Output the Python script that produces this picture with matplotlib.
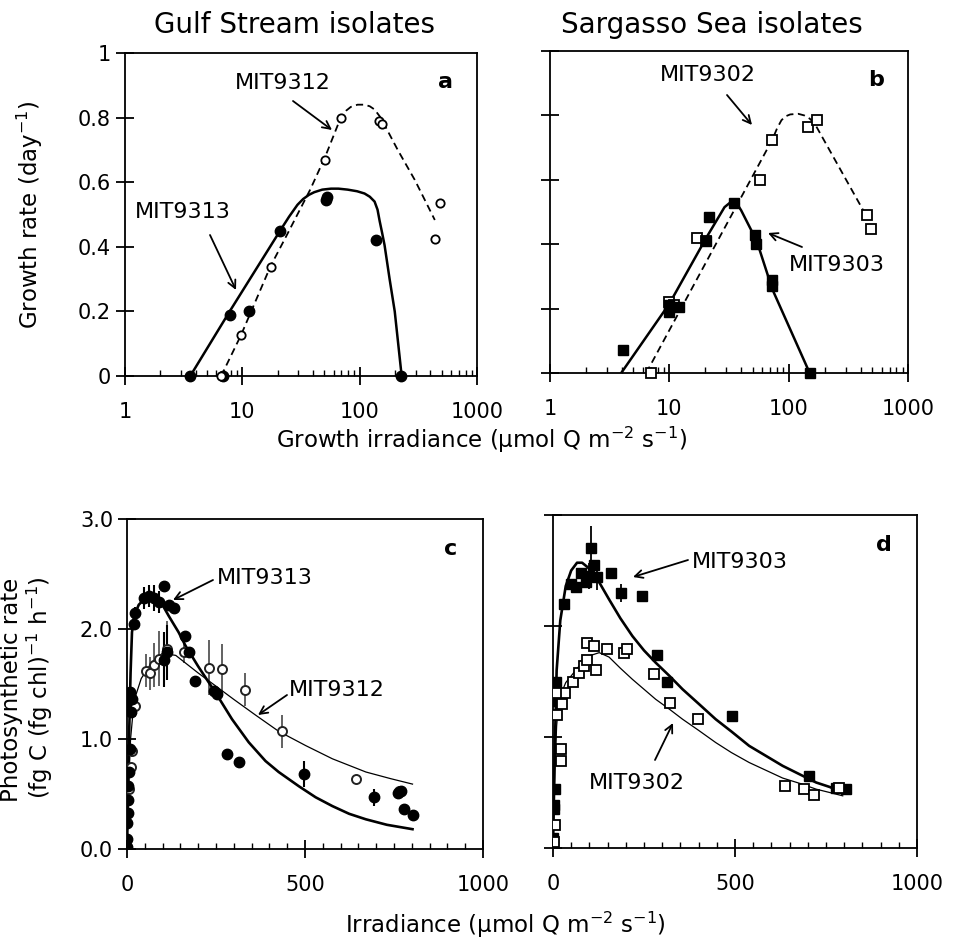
import matplotlib
matplotlib.use("Agg")
import matplotlib.pyplot as plt
from matplotlib.ticker import FixedLocator, LogLocator, MultipleLocator, NullFormatter

plt.rcParams['font.family'] = ['DejaVu Sans']

# ---------------- Panel a : Gulf Stream isolates (growth rate) ----------------
a_9313_x = [3.6, 6.9, 7.9, 11.5, 21, 52, 53, 137, 224]
a_9313_y = [0, 0, 0.19, 0.20, 0.45, 0.545, 0.555, 0.42, 0]
a_9312_x = [6.6, 9.7, 17.4, 51, 69, 146, 155, 480, 437]
a_9312_y = [0, 0.127, 0.338, 0.669, 0.80, 0.79, 0.78, 0.535, 0.424]
a_9313_fit_x = [3.6, 7.8, 21, 25, 29.5, 33, 37, 41, 48, 57, 66, 79, 95, 110, 122, 134, 142, 148, 155, 163,
                180, 199, 228]
a_9313_fit_y = [0, 0.2, 0.45, 0.493, 0.53, 0.548, 0.561, 0.569, 0.577, 0.58, 0.58, 0.577, 0.572, 0.565,
                0.555, 0.54, 0.515, 0.48, 0.445, 0.405, 0.3, 0.2, 0]
a_9312_fit_x = [6.6, 9.7, 17.4, 24, 38, 51, 69, 77, 84, 96, 110, 122, 134, 151, 211, 295, 437]
a_9312_fit_y = [0, 0.125, 0.34, 0.437, 0.578, 0.68, 0.80, 0.822, 0.833, 0.84, 0.84, 0.835, 0.825, 0.80, 0.70,
                0.607, 0.483]

# ---------------- Panel b : Sargasso Sea isolates (growth rate) ----------------
b_9302_x = [7.0, 10, 11, 17.2, 20.4, 57, 73, 145, 172, 452, 490]
b_9302_y = [0, 0.22, 0.21, 0.42, 0.41, 0.60, 0.725, 0.765, 0.785, 0.49, 0.447]
b_9303_x = [4.1, 10, 12.1, 10, 21.7, 20.4, 35, 52, 53, 73, 73, 150]
b_9303_y = [0.071, 0.21, 0.205, 0.19, 0.485, 0.41, 0.527, 0.43, 0.40, 0.29, 0.27, 0]
b_9303_fit_x = [3.95, 10, 20.4, 29, 33, 36, 40, 54, 73, 150]
b_9303_fit_y = [0, 0.215, 0.42, 0.515, 0.532, 0.532, 0.505, 0.41, 0.26, 0]
b_9302_fit_x = [6.4, 35, 73, 80, 87, 94, 103, 120, 135, 150, 165, 452]
b_9302_fit_y = [0, 0.506, 0.725, 0.76, 0.785, 0.797, 0.803, 0.805, 0.80, 0.79, 0.775, 0.485]

# ---------------- Panel c : Gulf Stream P-I curves ----------------
c_9313_x = [0, 0, 0, 2, 3, 4, 5, 8, 12, 0, 9, 14, 19, 23, 47, 61, 75, 89, 103, 117,
            131, 162, 174, 192, 244, 253, 282, 314, 497, 694, 760, 769, 779, 802, 105, 113]
c_9313_y = [0.02, 0.09, 0.24, 0.33, 0.45, 0.57, 0.70, 0.91, 1.25, 1.34, 1.43, 1.36, 2.05, 2.15,
            2.28, 2.30, 2.28, 2.25, 2.39, 2.22, 2.19, 1.94, 1.79, 1.53, 1.44, 1.41, 0.86, 0.79,
            0.68, 0.47, 0.51, 0.53, 0.36, 0.31, 1.72, 1.79]
c_9313_err = [0, 0, 0, 0, 0, 0, 0, 0, 0, 0, 0, 0, 0, 0.05,
              0.1, 0.1, 0.12, 0.1, 0, 0, 0, 0, 0, 0, 0, 0, 0, 0,
              0.12, 0.08, 0, 0, 0, 0, 0.25, 0.25]
c_9312_x = [5, 10, 14, 23, 52, 66, 75, 89, 113, 159, 230, 267, 331, 436, 643, 764]
c_9312_y = [0.55, 0.75, 0.89, 1.30, 1.62, 1.60, 1.67, 1.73, 1.82, 1.79, 1.65, 1.64, 1.45, 1.07, 0.64, 0.53]
c_9312_err = [0, 0, 0.05, 0.1, 0.15, 0.15, 0.2, 0.25, 0.25, 0.1, 0.25, 0.22, 0.15, 0.15, 0, 0]
c_9313_fit_x = [0, 5, 10, 14, 20, 33, 45, 61, 75, 89, 103, 117, 130, 145, 164, 200, 249, 295, 342, 389,
                426, 483, 530, 577, 624, 671, 730, 802]
c_9313_fit_y = [0, 0.9, 1.6, 1.97, 2.12, 2.22, 2.26, 2.28, 2.28, 2.26, 2.2, 2.12, 2.05, 1.97, 1.85, 1.66,
                1.42, 1.18, 0.97, 0.80, 0.70, 0.57, 0.47, 0.39, 0.32, 0.27, 0.22, 0.18]
c_9312_fit_x = [0, 5, 10, 20, 40, 70, 100, 137, 200, 250, 300, 360, 426, 502, 577, 671, 740, 802]
c_9312_fit_y = [0, 0.6, 1.0, 1.35, 1.55, 1.70, 1.78, 1.76, 1.60, 1.48, 1.36, 1.22, 1.07, 0.94, 0.82, 0.70,
                0.64, 0.59]

# ---------------- Panel d : Sargasso Sea P-I curves ----------------
d_9303_x = [0, 3, 4, 5, 7, 7, 30, 49, 62, 76, 104, 113, 122, 159, 186, 245, 286, 314,
            493, 702, 778, 805, 90, 100]
d_9303_y = [0.09, 0.35, 0.39, 0.53, 1.32, 1.50, 2.20, 2.38, 2.35, 2.48, 2.70, 2.55, 2.44,
            2.48, 2.30, 2.27, 1.74, 1.50, 1.19, 0.65, 0.54, 0.53, 2.40, 2.45]
d_9303_err = [0, 0, 0, 0, 0, 0, 0, 0, 0, 0, 0.2, 0, 0.12, 0, 0.08, 0, 0, 0,
              0, 0, 0, 0, 0, 0.12]
d_9302_x = [3, 5, 21, 21, 26, 33, 55, 72, 85, 94, 117, 94, 113, 149, 195, 204,
            278, 321, 397, 636, 690, 718, 787, 8, 10]
d_9302_y = [0.05, 0.21, 0.78, 0.89, 1.30, 1.40, 1.50, 1.58, 1.64, 1.69, 1.60, 1.85, 1.82,
            1.79, 1.76, 1.79, 1.57, 1.31, 1.16, 0.56, 0.53, 0.48, 0.54, 1.40, 1.20]
d_9303_fit_x = [0, 5, 10, 20, 35, 50, 66, 80, 95, 117, 154, 185, 218, 250, 282, 320, 356, 400, 447, 490,
                539, 585, 631, 680, 723, 760, 796]
d_9303_fit_y = [0, 0.9, 1.6, 2.05, 2.36, 2.5, 2.57, 2.57, 2.53, 2.45, 2.24, 2.07, 1.91, 1.78, 1.67, 1.55,
                1.43, 1.30, 1.16, 1.05, 0.92, 0.83, 0.74, 0.66, 0.59, 0.55, 0.50]
d_9302_fit_x = [0, 5, 10, 16, 35, 72, 99, 127, 154, 185, 218, 250, 282, 320, 356, 400, 447, 490, 539,
                585, 631, 680, 723, 760, 796]
d_9302_fit_y = [0, 0.7, 1.1, 1.34, 1.49, 1.64, 1.73, 1.76, 1.72, 1.62, 1.52, 1.43, 1.34, 1.25, 1.16, 1.06,
                0.95, 0.86, 0.77, 0.70, 0.63, 0.58, 0.53, 0.50, 0.47]

growth_ticks = [0, 0.2, 0.4, 0.6, 0.8, 1.0]
growth_ticklabels = ['0', '0.2', '0.4', '0.6', '0.8', '1']
log_ticks = [1, 10, 100, 1000]
log_ticklabels = ['1', '10', '100', '1000']
pi_yticks = [0.0, 1.0, 2.0, 3.0]
pi_yticklabels = ['0.0', '1.0', '2.0', '3.0']
pi_xticks = [0, 500, 1000]
pi_xticklabels = ['0', '500', '1000']

W, H = 957, 949
fig = plt.figure(figsize=(W / 100, H / 100), dpi=100)
fig.patch.set_facecolor('white')


def box(l, t, r, b):
    return [l / W, 1 - b / H, (r - l) / W, (b - t) / H]


axa = fig.add_axes(box(125, 53, 477, 376))
axb = fig.add_axes(box(550, 51, 908, 373))
axc = fig.add_axes(box(127, 519, 483, 849))
axd = fig.add_axes(box(553, 515, 917, 848))

TICK_FS = 15
ANN_FS = 16
LAB_FS = 16.5

for ax in (axa, axb, axc, axd):
    for s in ax.spines.values():
        s.set_linewidth(1.3)
    ax.tick_params(which='major', direction='inout', length=13, width=1.3,
                   labelsize=TICK_FS, top=False, right=False)
    ax.tick_params(which='minor', direction='in', length=4, width=1.0,
                   top=False, right=False)
    ax.tick_params(axis='x', which='major', pad=12)

# ---- panel a ----
axa.plot(a_9313_fit_x, a_9313_fit_y, color='black', lw=1.8, solid_joinstyle='round')
axa.plot(a_9312_fit_x, a_9312_fit_y, color='black', lw=1.3, linestyle=(0, (4, 2.5)))
axa.plot(a_9313_x, a_9313_y, 'o', color='black', ms=7.5, clip_on=False, zorder=5)
axa.plot(a_9312_x, a_9312_y, 'o', mfc='white', mec='black', mew=1.3, ms=6, clip_on=False, zorder=6)

# ---- panel b ----
axb.plot(b_9303_fit_x, b_9303_fit_y, color='black', lw=1.8, solid_joinstyle='round')
axb.plot(b_9302_fit_x, b_9302_fit_y, color='black', lw=1.3, linestyle=(0, (4, 2.5)))
axb.plot(b_9302_x, b_9302_y, 's', mfc='white', mec='black', mew=1.3, ms=6.5, clip_on=False, zorder=5)
axb.plot(b_9303_x, b_9303_y, 's', color='black', ms=7.5, clip_on=False, zorder=6)

for ax in (axa, axb):
    ax.set_xscale('log')
    ax.set_xlim(1, 1000)
    ax.set_ylim(0, 1.0)
    ax.xaxis.set_major_locator(FixedLocator(log_ticks))
    ax.xaxis.set_minor_locator(LogLocator(base=10, subs=range(2, 10)))
    ax.xaxis.set_minor_formatter(NullFormatter())
    ax.set_xticks(log_ticks)
    ax.set_xticklabels(log_ticklabels)
    ax.set_yticks(growth_ticks)

axa.set_yticklabels(growth_ticklabels)
axb.set_yticklabels([])

# ---- panel c ----
axc.errorbar(c_9312_x, c_9312_y, yerr=c_9312_err, fmt='none', ecolor='#555555', elinewidth=1.3, zorder=3)
axc.errorbar(c_9313_x, c_9313_y, yerr=c_9313_err, fmt='none', ecolor='black', elinewidth=1.5, zorder=3)
axc.plot(c_9313_fit_x, c_9313_fit_y, color='black', lw=1.9, zorder=4, solid_joinstyle='round')
axc.plot(c_9312_fit_x, c_9312_fit_y, color='black', lw=0.9, zorder=4)
axc.plot(c_9312_x, c_9312_y, 'o', mfc='white', mec='#222222', mew=1.4, ms=6.5, zorder=5)
axc.plot(c_9313_x, c_9313_y, 'o', color='black', ms=7.5, zorder=6)

# ---- panel d ----
axd.errorbar(d_9303_x, d_9303_y, yerr=d_9303_err, fmt='none', ecolor='black', elinewidth=1.3, zorder=3)
axd.plot(d_9303_fit_x, d_9303_fit_y, color='black', lw=1.9, zorder=4, solid_joinstyle='round')
axd.plot(d_9302_fit_x, d_9302_fit_y, color='black', lw=0.9, zorder=4)
axd.plot(d_9303_x, d_9303_y, 's', color='black', ms=7.5, zorder=5)
axd.plot(d_9302_x, d_9302_y, 's', mfc='white', mec='black', mew=1.3, ms=7, zorder=6)

for ax in (axc, axd):
    ax.set_xlim(0, 1000)
    ax.set_ylim(0, 3.0)
    ax.set_xticks(pi_xticks)
    ax.set_xticklabels(pi_xticklabels)
    ax.xaxis.set_minor_locator(MultipleLocator(50))
    ax.set_yticks(pi_yticks)

axc.set_yticklabels(pi_yticklabels)
axd.set_yticklabels([])

# ---- panel letters ----
for ax, letter in ((axa, 'a'), (axb, 'b'), (axc, 'c'), (axd, 'd')):
    ax.text(0.91, 0.91, letter, transform=ax.transAxes, fontsize=ANN_FS,
            fontweight='bold', ha='center', va='center')

# ---- annotations (text centres and arrow ends in figure pixels) ----
arrow = dict(arrowstyle='->', color='black', lw=1.3, shrinkA=0, shrinkB=0,
             mutation_scale=14)


def label(text, cx, cy):
    fig.text(cx / W, 1 - cy / H, text, fontsize=ANN_FS, ha='center', va='center')


def pointer(ax, x0, y0, x1, y1):
    ax.annotate('', xy=(x1 / W, 1 - y1 / H), xycoords='figure fraction',
                xytext=(x0 / W, 1 - y0 / H), textcoords='figure fraction', arrowprops=arrow)


label('MIT9312', 283, 83)
pointer(axa, 293, 101, 332, 130)
label('MIT9313', 183, 212)
pointer(axa, 210, 235, 236, 290)

label('MIT9302', 708, 75)
pointer(axb, 727, 95, 752, 125)
label('MIT9303', 837, 265)
pointer(axb, 802, 247, 768, 233)

label('MIT9313', 265, 578)
pointer(axc, 213, 580, 173, 600)
label('MIT9312', 337, 690)
pointer(axc, 287, 695, 258, 715)

label('MIT9303', 740, 562)
pointer(axd, 688, 560, 633, 577)
label('MIT9302', 637, 783)
pointer(axd, 655, 760, 673, 723)

# ---- titles and axis labels ----
fig.text(295 / W, 1 - 25 / H, 'Gulf Stream isolates', fontsize=20, ha='center', va='center')
fig.text(712 / W, 1 - 25 / H, 'Sargasso Sea isolates', fontsize=20, ha='center', va='center')
fig.text(30 / W, 1 - 215 / H, 'Growth rate (day$^{-1}$)', fontsize=LAB_FS, rotation=90,
         ha='center', va='center')
fig.text(482 / W, 1 - 440 / H, 'Growth irradiance (µmol Q m$^{-2}$ s$^{-1}$)', fontsize=LAB_FS,
         ha='center', va='center')
fig.text(505 / W, 1 - 925 / H, 'Irradiance (µmol Q m$^{-2}$ s$^{-1}$)', fontsize=LAB_FS,
         ha='center', va='center')
fig.text(12 / W, 1 - 690 / H, 'Photosynthetic rate', fontsize=LAB_FS, rotation=90,
         ha='center', va='center')
fig.text(40 / W, 1 - 688 / H, '(fg C (fg chl)$^{-1}$ h$^{-1}$)', fontsize=LAB_FS, rotation=90,
         ha='center', va='center')

fig.savefig('out.png', dpi=100, facecolor='white')
